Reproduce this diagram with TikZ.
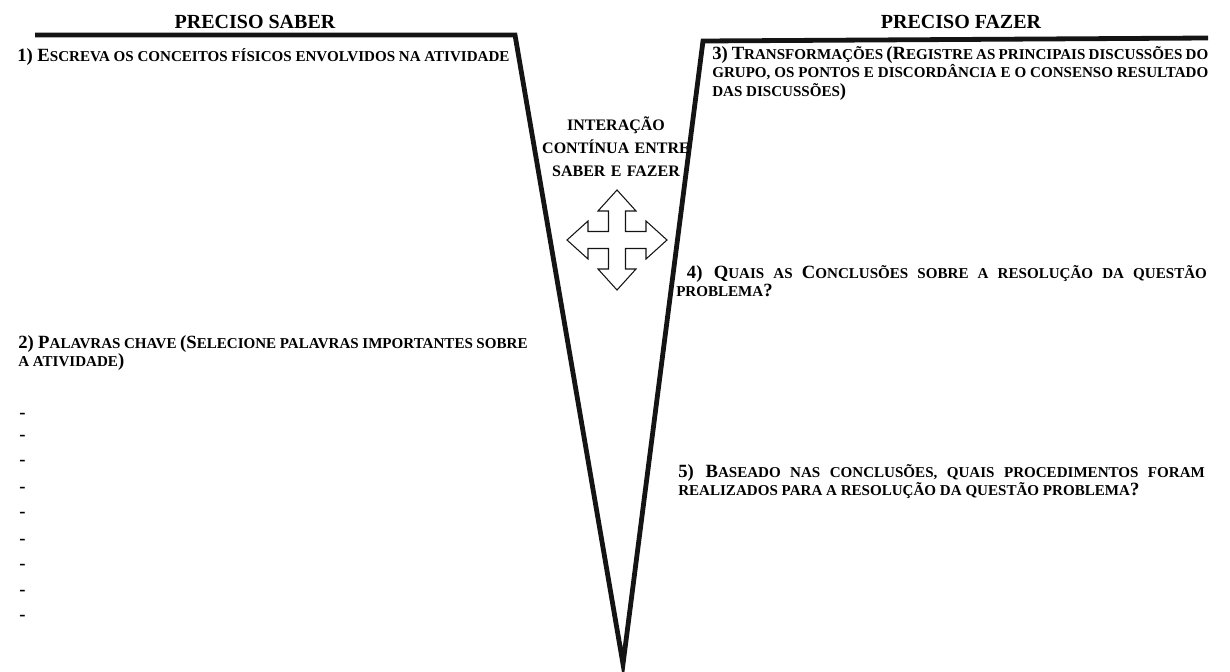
\documentclass[tikz,border=0pt]{standalone}
\usepackage{fontspec}
\setmainfont{Liberation Serif}
\usetikzlibrary{positioning}
\hyphenpenalty=10000 \exhyphenpenalty=10000
% fake small caps: smaller upper-case letters
\newcommand{\smc}[1]{{\fontsize{11.3}{14}\selectfont\MakeUppercase{#1}}}

\begin{document}
\begin{tikzpicture}[x=0.75pt,y=0.75pt,line join=miter,
  every node/.style={inner sep=0pt},
  head/.style={font=\fontsize{15}{17}\selectfont\bfseries},
  task/.style={anchor=base west,align=justify,font=\fontsize{14}{14}\selectfont\bfseries},
  mid/.style={text width=180pt,align=center,font=\fontsize{12}{17.5}\selectfont\bfseries}]
\definecolor{ink}{RGB}{20,20,20}
\useasboundingbox (0,0) rectangle (1230,-671);
% the V: saber on the left, fazer on the right
\coordinate (ltop) at (35,-35);   \coordinate (lcorn) at (515,-35);
\coordinate (tip) at (623,-664);
\coordinate (rcorn) at (703,-41); \coordinate (rtop) at (1208,-38);
\draw[ink,line width=3.6pt] (ltop) -- (lcorn) -- (tip) -- (rcorn) -- (rtop);
\node[head,anchor=base] (saber) at (255,-28) {PRECISO SABER};
\node[head,anchor=base] (fazer) at (961,-28) {PRECISO FAZER};
% left side
\node[task] (q1) at (17,-61) {1) E\smc{screva os conceitos físicos envolvidos na atividade}};
\node[task,text width=382pt] (q2) at (18,-348)
  {2) P\smc{alavras chave }(S\smc{elecione palavras importantes sobre a atividade})};
\foreach \y [count=\i] in {414,436,461,488,513,540,565,591,616}{
  \node[task] (d\i) at (19,-\y-4) {-};}
% right side
\node[task,text width=372pt] (q3) at (712,-59)
  {3) T\smc{ransformações }(R\smc{egistre as principais discussões do grupo, os pontos e discordância e o consenso resultado das discussões})};
\node[task,text width=398pt] (q4) at (676,-278)
  {\hspace*{8pt}4) Q\smc{uais as }C\smc{onclusões sobre a resolução da questão problema}?};
\node[task,text width=395pt] (q5) at (678,-477)
  {5) B\smc{aseado nas conclusões, quais procedimentos foram realizados para a resolução da questão problema}?};
% middle: interaction + four-way arrow
\node[mid,anchor=base] (inter) at (616,-130) {INTERAÇÃO\\CONTÍNUA ENTRE\\SABER E FAZER};
\coordinate (cross) at (617,-240);
\draw[ink,line width=0.8pt,shift={(617,-240)}]
  (8.5,8.5) -- (8.5,29) -- (19,29) -- (0,50) -- (-19,29) -- (-8.5,29) -- (-8.5,8.5)
  -- (-29,8.5) -- (-29,19) -- (-50,0) -- (-29,-19) -- (-29,-8.5) -- (-8.5,-8.5)
  -- (-8.5,-29) -- (-19,-29) -- (0,-50) -- (19,-29) -- (8.5,-29) -- (8.5,-8.5)
  -- (29,-8.5) -- (29,-19) -- (50,0) -- (29,19) -- (29,8.5) -- cycle;
\end{tikzpicture}
\end{document}
